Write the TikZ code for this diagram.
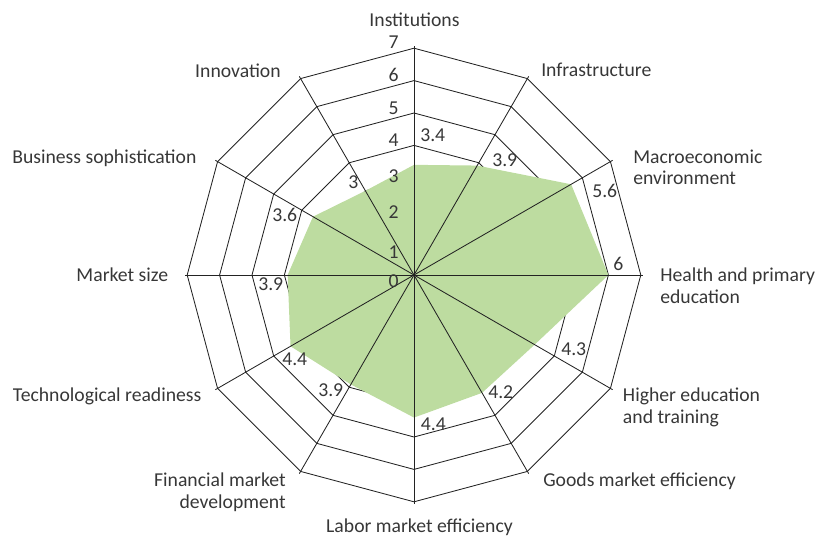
\documentclass[tikz,border=0pt]{standalone}
\usepackage{fontspec}
\setmainfont{Carlito}
\usepackage{tikz}
\definecolor{radargreen}{RGB}{189,220,160}
\definecolor{gridgray}{RGB}{35,35,35}
\definecolor{textgray}{RGB}{55,55,55}
\newcommand{\upx}{32.4}

\begin{document}
\begin{tikzpicture}[
    x=0.025cm, y=0.025cm,
    every node/.style={text=textgray, inner sep=0pt,
                       font=\fontsize{14}{15.4}\selectfont},
    grid/.style={draw=gridgray, line width=0.6pt},
    leftlabel/.style={anchor=base west, align=left},
    rightlabel/.style={anchor=base east, align=right},
    vallabel/.style={anchor=base west},
    scalelabel/.style={anchor=base east}
]
\useasboundingbox (-414,-264) rectangle (413,275);

% Rings
\foreach \r in {1,...,7}
    \draw[grid] (0:{\r*\upx}) \foreach \a in {30,60,...,330} { -- (\a:{\r*\upx}) } -- cycle;

% Scores
\fill[radargreen] (90:{3.4*\upx}) -- (60:{3.9*\upx}) -- (30:{5.6*\upx}) -- (0:{6*\upx})
    -- (-30:{4.3*\upx}) -- (-60:{4.2*\upx}) -- (-90:{4.4*\upx}) -- (-120:{3.9*\upx})
    -- (-150:{4.4*\upx}) -- (180:{3.9*\upx}) -- (150:{3.6*\upx}) -- (120:{3*\upx}) -- cycle;

% Spokes
\coordinate (centre) at (0,0);
\foreach \a in {0,30,...,330}
    \draw[grid] (centre) -- (\a:{7.08*\upx});

% Scale
\node[scalelabel] (s0) at (-15,-12) {0};
\node[scalelabel] (s1) at (-15,17) {1};
\node[scalelabel] (s2) at (-15,57) {2};
\node[scalelabel] (s3) at (-15,92) {3};
\node[scalelabel] (s4) at (-15,128) {4};
\node[scalelabel] (s5) at (-15,160) {5};
\node[scalelabel] (s6) at (-15,193) {6};
\node[scalelabel] (s7) at (-15,226) {7};

% Pillars (two-line ones sit on their second baseline)
\node[anchor=base] (inst) at (0.5,248) {Institutions};
\node[leftlabel] (infra) at (127,198) {Infrastructure};
\node[leftlabel] (macro) at (219,90.3) {Macroeconomic\\environment};
\node[leftlabel] (health) at (246,-28.4) {Health and primary\\education};
\node[leftlabel] (higher) at (208.7,-148.4) {Higher education\\and training};
\node[leftlabel] (goods) at (129,-211.7) {Goods market efficiency};
\node[anchor=base] (labor) at (5.5,-257) {Labor market efficiency};
\node[rightlabel] (finance) at (-128,-233.4) {Financial market\\development};
\node[rightlabel] (tech) at (-212.3,-126.7) {Technological readiness};
\node[rightlabel] (size) at (-245.7,-6.7) {Market size};
\node[rightlabel] (business) at (-217.3,111.7) {Business sophistication};
\node[rightlabel] (innov) at (-133,197.7) {Innovation};

% Values
\node[vallabel] (v-inst) at (6,133) {3.4};
\node[vallabel] (v-infra) at (78,108) {3.9};
\node[vallabel] (v-macro) at (178,77) {5.6};
\node[vallabel] (v-health) at (199,5) {6};
\node[vallabel] (v-higher) at (147,-80) {4.3};
\node[vallabel] (v-goods) at (74,-123) {4.2};
\node[vallabel] (v-labor) at (6.7,-155) {4.4};
\node[vallabel] (v-finance) at (-96,-121) {3.9};
\node[vallabel] (v-tech) at (-132,-90.7) {4.4};
\node[vallabel] (v-size) at (-156,-15) {3.9};
\node[vallabel] (v-business) at (-142,54) {3.6};
\node[vallabel] (v-innov) at (-66,86) {3};

\end{tikzpicture}
\end{document}
